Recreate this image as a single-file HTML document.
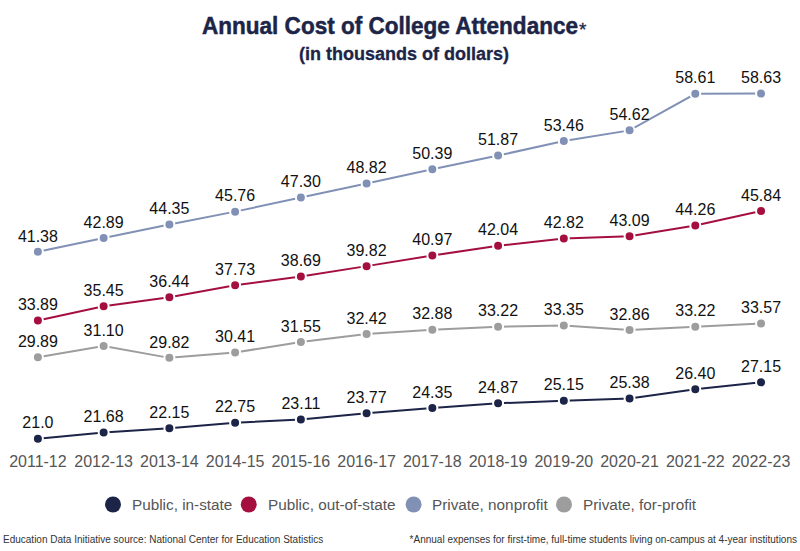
<!DOCTYPE html>
<html><head><meta charset="utf-8"><style>
html,body{margin:0;padding:0;background:#fff;}
body{width:800px;height:551px;overflow:hidden;position:relative;font-family:"Liberation Sans",sans-serif;}
svg{position:absolute;left:0;top:0;}
.dl{font-size:16px;fill:#111;}
.xl{font-size:16px;fill:#555;}
.t{font-size:24px;font-weight:bold;fill:#1c2447;stroke:#1c2447;stroke-width:0.5px;}
.st{font-size:18px;font-weight:bold;fill:#1c2447;stroke:#1c2447;stroke-width:0.3px;}
.lg{font-size:15.3px;fill:#555;}
.ft{font-size:10px;fill:#333;}
.ast{font-size:19px;fill:#1c2447;stroke:#1c2447;stroke-width:0.3px;}
</style></head><body>
<svg width="800" height="551" viewBox="0 0 800 551">
<text x="202" y="34" class="t" textLength="376" lengthAdjust="spacingAndGlyphs">Annual Cost of College Attendance</text><text x="579" y="36" class="ast">*</text>
<text x="404" y="59.6" text-anchor="middle" class="st">(in thousands of dollars)</text>
<polyline points="37.90,357.22 103.64,346.12 169.38,357.86 235.12,352.45 300.86,341.99 366.60,334.01 432.34,329.79 498.08,326.67 563.82,325.48 629.56,329.98 695.30,326.67 761.04,323.46" fill="none" stroke="#9d9d9d" stroke-width="2"/>
<circle cx="37.90" cy="357.22" r="5" fill="#9d9d9d" stroke="#fff" stroke-width="2"/>
<circle cx="103.64" cy="346.12" r="5" fill="#9d9d9d" stroke="#fff" stroke-width="2"/>
<circle cx="169.38" cy="357.86" r="5" fill="#9d9d9d" stroke="#fff" stroke-width="2"/>
<circle cx="235.12" cy="352.45" r="5" fill="#9d9d9d" stroke="#fff" stroke-width="2"/>
<circle cx="300.86" cy="341.99" r="5" fill="#9d9d9d" stroke="#fff" stroke-width="2"/>
<circle cx="366.60" cy="334.01" r="5" fill="#9d9d9d" stroke="#fff" stroke-width="2"/>
<circle cx="432.34" cy="329.79" r="5" fill="#9d9d9d" stroke="#fff" stroke-width="2"/>
<circle cx="498.08" cy="326.67" r="5" fill="#9d9d9d" stroke="#fff" stroke-width="2"/>
<circle cx="563.82" cy="325.48" r="5" fill="#9d9d9d" stroke="#fff" stroke-width="2"/>
<circle cx="629.56" cy="329.98" r="5" fill="#9d9d9d" stroke="#fff" stroke-width="2"/>
<circle cx="695.30" cy="326.67" r="5" fill="#9d9d9d" stroke="#fff" stroke-width="2"/>
<circle cx="761.04" cy="323.46" r="5" fill="#9d9d9d" stroke="#fff" stroke-width="2"/>
<polyline points="37.90,251.82 103.64,237.97 169.38,224.58 235.12,211.64 300.86,197.52 366.60,183.57 432.34,169.17 498.08,155.60 563.82,141.01 629.56,130.37 695.30,93.77 761.04,93.59" fill="none" stroke="#8191b6" stroke-width="2"/>
<circle cx="37.90" cy="251.82" r="5" fill="#8191b6" stroke="#fff" stroke-width="2"/>
<circle cx="103.64" cy="237.97" r="5" fill="#8191b6" stroke="#fff" stroke-width="2"/>
<circle cx="169.38" cy="224.58" r="5" fill="#8191b6" stroke="#fff" stroke-width="2"/>
<circle cx="235.12" cy="211.64" r="5" fill="#8191b6" stroke="#fff" stroke-width="2"/>
<circle cx="300.86" cy="197.52" r="5" fill="#8191b6" stroke="#fff" stroke-width="2"/>
<circle cx="366.60" cy="183.57" r="5" fill="#8191b6" stroke="#fff" stroke-width="2"/>
<circle cx="432.34" cy="169.17" r="5" fill="#8191b6" stroke="#fff" stroke-width="2"/>
<circle cx="498.08" cy="155.60" r="5" fill="#8191b6" stroke="#fff" stroke-width="2"/>
<circle cx="563.82" cy="141.01" r="5" fill="#8191b6" stroke="#fff" stroke-width="2"/>
<circle cx="629.56" cy="130.37" r="5" fill="#8191b6" stroke="#fff" stroke-width="2"/>
<circle cx="695.30" cy="93.77" r="5" fill="#8191b6" stroke="#fff" stroke-width="2"/>
<circle cx="761.04" cy="93.59" r="5" fill="#8191b6" stroke="#fff" stroke-width="2"/>
<polyline points="37.90,320.53 103.64,306.22 169.38,297.14 235.12,285.30 300.86,276.50 366.60,266.13 432.34,255.58 498.08,245.77 563.82,238.61 629.56,236.14 695.30,225.40 761.04,210.91" fill="none" stroke="#a50f3f" stroke-width="2"/>
<circle cx="37.90" cy="320.53" r="5" fill="#a50f3f" stroke="#fff" stroke-width="2"/>
<circle cx="103.64" cy="306.22" r="5" fill="#a50f3f" stroke="#fff" stroke-width="2"/>
<circle cx="169.38" cy="297.14" r="5" fill="#a50f3f" stroke="#fff" stroke-width="2"/>
<circle cx="235.12" cy="285.30" r="5" fill="#a50f3f" stroke="#fff" stroke-width="2"/>
<circle cx="300.86" cy="276.50" r="5" fill="#a50f3f" stroke="#fff" stroke-width="2"/>
<circle cx="366.60" cy="266.13" r="5" fill="#a50f3f" stroke="#fff" stroke-width="2"/>
<circle cx="432.34" cy="255.58" r="5" fill="#a50f3f" stroke="#fff" stroke-width="2"/>
<circle cx="498.08" cy="245.77" r="5" fill="#a50f3f" stroke="#fff" stroke-width="2"/>
<circle cx="563.82" cy="238.61" r="5" fill="#a50f3f" stroke="#fff" stroke-width="2"/>
<circle cx="629.56" cy="236.14" r="5" fill="#a50f3f" stroke="#fff" stroke-width="2"/>
<circle cx="695.30" cy="225.40" r="5" fill="#a50f3f" stroke="#fff" stroke-width="2"/>
<circle cx="761.04" cy="210.91" r="5" fill="#a50f3f" stroke="#fff" stroke-width="2"/>
<polyline points="37.90,438.77 103.64,432.53 169.38,428.22 235.12,422.71 300.86,419.41 366.60,413.36 432.34,408.04 498.08,403.27 563.82,400.70 629.56,398.59 695.30,389.23 761.04,382.35" fill="none" stroke="#1c2447" stroke-width="2"/>
<circle cx="37.90" cy="438.77" r="5" fill="#1c2447" stroke="#fff" stroke-width="2"/>
<circle cx="103.64" cy="432.53" r="5" fill="#1c2447" stroke="#fff" stroke-width="2"/>
<circle cx="169.38" cy="428.22" r="5" fill="#1c2447" stroke="#fff" stroke-width="2"/>
<circle cx="235.12" cy="422.71" r="5" fill="#1c2447" stroke="#fff" stroke-width="2"/>
<circle cx="300.86" cy="419.41" r="5" fill="#1c2447" stroke="#fff" stroke-width="2"/>
<circle cx="366.60" cy="413.36" r="5" fill="#1c2447" stroke="#fff" stroke-width="2"/>
<circle cx="432.34" cy="408.04" r="5" fill="#1c2447" stroke="#fff" stroke-width="2"/>
<circle cx="498.08" cy="403.27" r="5" fill="#1c2447" stroke="#fff" stroke-width="2"/>
<circle cx="563.82" cy="400.70" r="5" fill="#1c2447" stroke="#fff" stroke-width="2"/>
<circle cx="629.56" cy="398.59" r="5" fill="#1c2447" stroke="#fff" stroke-width="2"/>
<circle cx="695.30" cy="389.23" r="5" fill="#1c2447" stroke="#fff" stroke-width="2"/>
<circle cx="761.04" cy="382.35" r="5" fill="#1c2447" stroke="#fff" stroke-width="2"/>
<text x="37.90" y="346.92" text-anchor="middle" class="dl">29.89</text>
<text x="103.64" y="335.82" text-anchor="middle" class="dl">31.10</text>
<text x="169.38" y="347.56" text-anchor="middle" class="dl">29.82</text>
<text x="235.12" y="342.15" text-anchor="middle" class="dl">30.41</text>
<text x="300.86" y="331.69" text-anchor="middle" class="dl">31.55</text>
<text x="366.60" y="323.71" text-anchor="middle" class="dl">32.42</text>
<text x="432.34" y="319.49" text-anchor="middle" class="dl">32.88</text>
<text x="498.08" y="316.37" text-anchor="middle" class="dl">33.22</text>
<text x="563.82" y="315.18" text-anchor="middle" class="dl">33.35</text>
<text x="629.56" y="319.68" text-anchor="middle" class="dl">32.86</text>
<text x="695.30" y="316.37" text-anchor="middle" class="dl">33.22</text>
<text x="761.04" y="313.16" text-anchor="middle" class="dl">33.57</text>
<text x="37.90" y="241.52" text-anchor="middle" class="dl">41.38</text>
<text x="103.64" y="227.67" text-anchor="middle" class="dl">42.89</text>
<text x="169.38" y="214.28" text-anchor="middle" class="dl">44.35</text>
<text x="235.12" y="201.34" text-anchor="middle" class="dl">45.76</text>
<text x="300.86" y="187.22" text-anchor="middle" class="dl">47.30</text>
<text x="366.60" y="173.27" text-anchor="middle" class="dl">48.82</text>
<text x="432.34" y="158.87" text-anchor="middle" class="dl">50.39</text>
<text x="498.08" y="145.30" text-anchor="middle" class="dl">51.87</text>
<text x="563.82" y="130.71" text-anchor="middle" class="dl">53.46</text>
<text x="629.56" y="120.07" text-anchor="middle" class="dl">54.62</text>
<text x="695.30" y="83.47" text-anchor="middle" class="dl">58.61</text>
<text x="761.04" y="83.29" text-anchor="middle" class="dl">58.63</text>
<text x="37.90" y="310.23" text-anchor="middle" class="dl">33.89</text>
<text x="103.64" y="295.92" text-anchor="middle" class="dl">35.45</text>
<text x="169.38" y="286.84" text-anchor="middle" class="dl">36.44</text>
<text x="235.12" y="275.00" text-anchor="middle" class="dl">37.73</text>
<text x="300.86" y="266.20" text-anchor="middle" class="dl">38.69</text>
<text x="366.60" y="255.83" text-anchor="middle" class="dl">39.82</text>
<text x="432.34" y="245.28" text-anchor="middle" class="dl">40.97</text>
<text x="498.08" y="235.47" text-anchor="middle" class="dl">42.04</text>
<text x="563.82" y="228.31" text-anchor="middle" class="dl">42.82</text>
<text x="629.56" y="225.84" text-anchor="middle" class="dl">43.09</text>
<text x="695.30" y="215.10" text-anchor="middle" class="dl">44.26</text>
<text x="761.04" y="200.61" text-anchor="middle" class="dl">45.84</text>
<text x="37.90" y="428.47" text-anchor="middle" class="dl">21.0</text>
<text x="103.64" y="422.23" text-anchor="middle" class="dl">21.68</text>
<text x="169.38" y="417.92" text-anchor="middle" class="dl">22.15</text>
<text x="235.12" y="412.41" text-anchor="middle" class="dl">22.75</text>
<text x="300.86" y="409.11" text-anchor="middle" class="dl">23.11</text>
<text x="366.60" y="403.06" text-anchor="middle" class="dl">23.77</text>
<text x="432.34" y="397.74" text-anchor="middle" class="dl">24.35</text>
<text x="498.08" y="392.97" text-anchor="middle" class="dl">24.87</text>
<text x="563.82" y="390.40" text-anchor="middle" class="dl">25.15</text>
<text x="629.56" y="388.29" text-anchor="middle" class="dl">25.38</text>
<text x="695.30" y="378.93" text-anchor="middle" class="dl">26.40</text>
<text x="761.04" y="372.05" text-anchor="middle" class="dl">27.15</text>
<text x="37.90" y="467.3" text-anchor="middle" class="xl">2011-12</text>
<text x="103.64" y="467.3" text-anchor="middle" class="xl">2012-13</text>
<text x="169.38" y="467.3" text-anchor="middle" class="xl">2013-14</text>
<text x="235.12" y="467.3" text-anchor="middle" class="xl">2014-15</text>
<text x="300.86" y="467.3" text-anchor="middle" class="xl">2015-16</text>
<text x="366.60" y="467.3" text-anchor="middle" class="xl">2016-17</text>
<text x="432.34" y="467.3" text-anchor="middle" class="xl">2017-18</text>
<text x="498.08" y="467.3" text-anchor="middle" class="xl">2018-19</text>
<text x="563.82" y="467.3" text-anchor="middle" class="xl">2019-20</text>
<text x="629.56" y="467.3" text-anchor="middle" class="xl">2020-21</text>
<text x="695.30" y="467.3" text-anchor="middle" class="xl">2021-22</text>
<text x="761.04" y="467.3" text-anchor="middle" class="xl">2022-23</text>
<circle cx="113" cy="504.5" r="8" fill="#1c2447"/><text x="132" y="510" class="lg">Public, in-state</text>
<circle cx="248.75" cy="504.5" r="8" fill="#a50f3f"/><text x="268" y="510" class="lg">Public, out-of-state</text>
<circle cx="413.6" cy="504.5" r="8" fill="#8191b6"/><text x="432" y="510" class="lg">Private, nonprofit</text>
<circle cx="564" cy="504.5" r="8" fill="#9d9d9d"/><text x="583" y="510" class="lg">Private, for-profit</text>
<text x="3" y="543" class="ft">Education Data Initiative source: National Center for Education Statistics</text>
<text x="797" y="543" text-anchor="end" class="ft">*Annual expenses for first-time, full-time students living on-campus at 4-year institutions</text>
</svg></body></html>
